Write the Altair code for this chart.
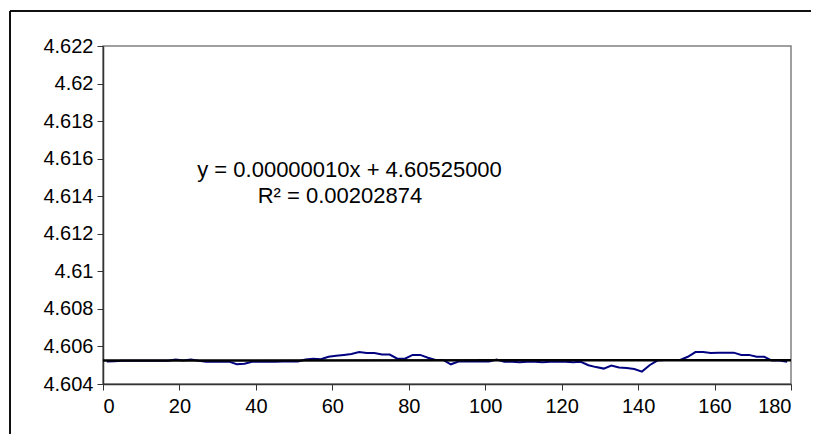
import altair as alt
import pandas as pd

# observed series (x every 2 units)
xs = list(range(1, 181, 2))
values = [
    4.60520, 4.60521, 4.60524, 4.60524, 4.60524, 4.60524, 4.60524, 4.60524, 4.60524, 4.60530,
    4.60525, 4.60530, 4.60524, 4.60519, 4.60519, 4.60519, 4.60519, 4.60505, 4.60508, 4.60518,
    4.60518, 4.60518, 4.60518, 4.60520, 4.60520, 4.60520, 4.60530, 4.60535, 4.60532, 4.60545,
    4.60550, 4.60555, 4.60560, 4.60570, 4.60565, 4.60565, 4.60557, 4.60557, 4.60535, 4.60535,
    4.60555, 4.60555, 4.60540, 4.60528, 4.60528, 4.60505, 4.60520, 4.60520, 4.60520, 4.60520,
    4.60520, 4.60530, 4.60518, 4.60518, 4.60516, 4.60518, 4.60518, 4.60516, 4.60518, 4.60518,
    4.60518, 4.60516, 4.60518, 4.60500, 4.60490, 4.60482, 4.60498, 4.60488, 4.60485, 4.60480,
    4.60466, 4.60500, 4.60525, 4.60528, 4.60528, 4.60528, 4.60545, 4.60570, 4.60570, 4.60565,
    4.60567, 4.60567, 4.60567, 4.60555, 4.60555, 4.60545, 4.60545, 4.60525, 4.60525, 4.60518,
]

# trend line from the equation
slope = 0.00000010
intercept = 4.60525000
trend_x = [0, 180]
trend_y = [intercept + slope * v for v in trend_x]

x_ticks = [0, 20, 40, 60, 80, 100, 120, 140, 160, 180]
y_ticks = [4.604, 4.606, 4.608, 4.61, 4.612, 4.614, 4.616, 4.618, 4.62, 4.622]

eq_text = ["y = 0.00000010x + 4.60525000", "R² = 0.00202874"]
eq_x = [64.5, 62.0]
eq_y = [4.6154, 4.6140]

FONT = "Liberation Sans"

df = pd.DataFrame({"x": xs, "y": values})
tdf = pd.DataFrame({"x": trend_x, "y": trend_y})
edf = pd.DataFrame({"text": eq_text, "x": eq_x, "y": eq_y})

xscale = alt.Scale(domain=[0, 180], nice=False, zero=False)
yscale = alt.Scale(domain=[4.604, 4.622], nice=False, zero=False)

xaxis = alt.Axis(values=x_ticks, title=None, grid=False, labelFont=FONT, labelFontSize=20,
                 labelColor="black", domainColor="#333333", domainWidth=1.5, tickColor="#333333",
                 tickSize=6, labelPadding=6, format="d", labelOverlap=False)
yaxis = alt.Axis(values=y_ticks, title=None, grid=False, labelFont=FONT, labelFontSize=20,
                 labelColor="black", domainColor="#333333", domainWidth=1.5, tickColor="#333333",
                 tickSize=6, labelPadding=4, labelExpr="toString(datum.value)",
                 labelOverlap=False)

X = alt.X("x:Q", scale=xscale, axis=xaxis)
Y = alt.Y("y:Q", scale=yscale, axis=yaxis)

series = alt.Chart(df).mark_line(color="#000080", strokeWidth=2).encode(x=X, y=Y)

trend = alt.Chart(tdf).mark_line(color="black", strokeWidth=2.5).encode(x=X, y=Y)

eq = alt.Chart(edf).mark_text(font=FONT, fontSize=22, color="black", align="center").encode(
    x=X, y=Y, text="text:N",
)

border_top = alt.Chart(tdf).mark_rule(color="black", strokeWidth=1.5, clip=False).encode(
    x=alt.value(-93), x2=alt.value(740), y=alt.value(-35)
)
border_left = alt.Chart(tdf).mark_rule(color="black", strokeWidth=1.5, clip=False).encode(
    x=alt.value(-93), y=alt.value(-35), y2=alt.value(420)
)

chart = alt.layer(series, trend, eq, border_top, border_left).properties(
    width=688,
    height=338,
    padding={"left": 95, "top": 38, "right": 20, "bottom": 50},
    autosize=alt.AutoSizeParams(type="none"),
    background="white",
).configure_view(stroke="#808080", strokeWidth=1.5).configure_axis(labelOverlap=False)

chart.save("out.html", embed_options={"renderer": "svg", "actions": False})
